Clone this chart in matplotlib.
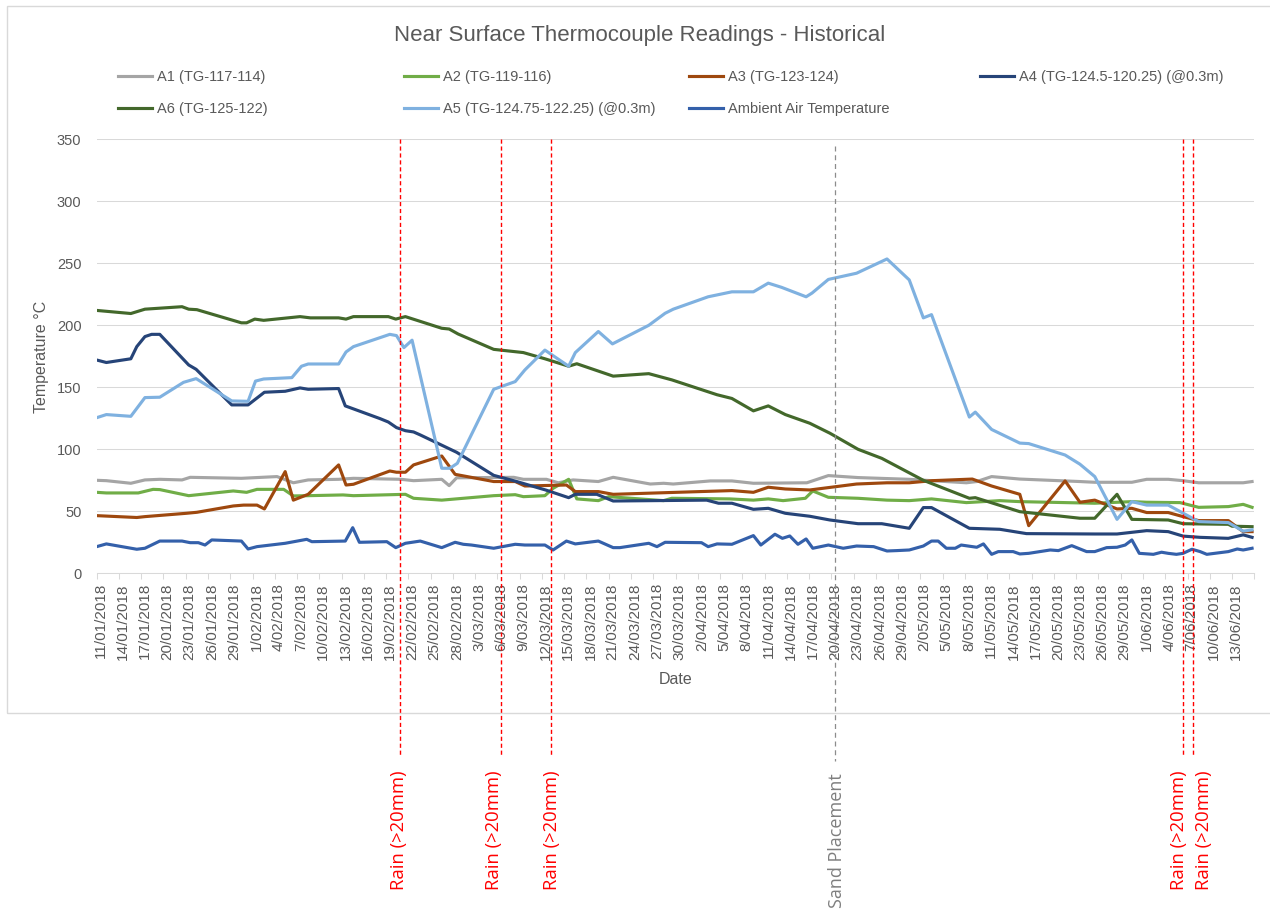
"""Near surface thermocouple readings chart (Excel look-alike)."""

import matplotlib
matplotlib.use("Agg")
import matplotlib.pyplot as plt
import matplotlib.dates as mdates
from matplotlib.patches import Rectangle
from matplotlib.transforms import ScaledTranslation
import pandas as pd

plt.rcParams["font.family"] = ["Liberation Sans", "DejaVu Sans"]

W, H = 1270, 910
START = pd.Timestamp("2018-01-11")
TEXT = "#595959"
GRID = "#d9d9d9"

# ---------------------------------------------------------------------------
# Data: days since 11/01/2018 and readings in °C
# ---------------------------------------------------------------------------

a1_days = [0, 1.3, 4.6, 6.5, 8.5, 11.5, 12.6, 19.5, 24.3, 26.5, 28.5, 32.6, 34.6,
           41, 42.7, 46.5, 47.5, 48.5, 56.2, 57.5, 60.6, 62.2, 64.2, 67.6, 69.6,
           74.6, 76.4, 77.7, 82.7, 85.6, 88.5, 95.7, 98.6, 102.6, 109.5, 117.2,
           118.6, 120.6, 124.4, 132.5, 134.5, 139.5, 141.5, 144.4, 146.4, 148.5,
           154.5, 155.7]
a1_vals = [75, 74.7, 72.6, 75.3, 75.8, 75.3, 77.4, 76.6, 78, 73, 75.3, 75.8, 76.6,
           75.8, 74.7, 75.8, 70.7, 77, 77.4, 75.8, 75.8, 73, 75.3, 74, 77.4,
           72, 72.6, 72, 74.5, 74.5, 72.6, 73, 78.8, 77.2, 75.8, 73,
           74, 78, 76, 74, 73.4, 73.4, 75.8, 75.8, 74.7, 73,
           73, 74]

a2_days = [0, 1.3, 5.6, 7.6, 8.5, 12.4, 18.4, 20.2, 21.6, 25.2, 26.5, 28.5, 33.2,
           34.6, 41.6, 42.7, 46.5, 53.5, 56.4, 57.5, 60.4, 61.5, 63.6, 64.7, 67.6,
           69, 76.4, 77.5, 85.3, 88.5, 90.5, 92.5, 95.5, 96.5, 98.6, 102.6, 106.5,
           109.5, 112.5, 117.2, 121.7, 124.4, 134.5, 139.5, 141.5, 146, 148.5,
           152.5, 154.5, 155.7]
a2_vals = [65.3, 64.8, 64.8, 67.7, 67.5, 62.6, 66.4, 65.3, 67.7, 67.7, 62.4, 62.6, 63.2,
           62.6, 63.7, 60.5, 59, 62.6, 63.4, 61.8, 62.6, 68.5, 75.8, 60, 58.6,
           61.8, 58.6, 60.5, 60, 59, 60, 58.6, 60.5, 66.4, 61.3, 60.5, 59,
           58.6, 60, 57, 58.6, 57.8, 56.5, 57.8, 57.3, 57, 53.2,
           53.8, 55.6, 53.2]

a3_days = [0, 5.4, 6.5, 12.1, 13.5, 18.4, 19.8, 21.6, 22.6, 25.4, 26.5, 28.5, 32.6,
           33.6, 34.6, 39.5, 40.4, 41.6, 42.7, 46.5, 48.3, 53.5, 56.4, 57.7, 63.3,
           64.5, 67.6, 69.6, 81.3, 85.6, 88.5, 90.5, 92.8, 96.1, 102.4, 106.5,
           109.5, 112.6, 118, 120.6, 124.4, 125.6, 130.5, 132.5, 134.5, 137.5,
           139.5, 141.5, 144.4, 146.4, 148.5, 152.5, 154.5, 155.7]
a3_vals = [46.5, 45, 45.7, 48.4, 49.2, 54.3, 55, 55, 51.9, 82, 59, 63.7, 87.4,
           71.2, 71.8, 82.5, 81.5, 81.5, 87.4, 94.6, 79.8, 74, 74, 70.4, 71.2,
           65.9, 65.9, 63.7, 65.9, 66.7, 65.3, 69.4, 68, 67.2, 72, 73,
           73, 74.7, 76, 70.4, 63.7, 38.4, 74.5, 57.3, 59, 51.9,
           52.4, 49, 49, 45.7, 42.5, 42.5, 33.6, 33.6]

a4_days = [0, 1.3, 4.6, 5.4, 6.5, 7.4, 8.5, 12.4, 13.4, 18.2, 20.4, 22.6, 25.4,
           27.4, 28.5, 32.6, 33.5, 38.2, 39.3, 40.4, 41.6, 42.7, 43.6, 48.5, 53.5,
           56.6, 60.6, 63.6, 64.5, 67.4, 69.6, 82.2, 83.8, 85.6, 88.5, 90.5, 92.8,
           96.1, 98.8, 102.6, 105.8, 109.5, 111.4, 112.5, 117.6, 121.7, 125.3,
           134.5, 137.5, 141.5, 144.4, 146.4, 148.7, 152.5, 154.5, 155.7]
a4_vals = [172, 170, 173, 182.8, 190.9, 192.7, 192.7, 168, 164.5, 135.8, 135.8, 146, 146.8,
           149.5, 148.4, 149, 135, 124.7, 122, 117.5, 115, 114, 111.6, 97.6, 79,
           74, 67, 61, 63.7, 63.7, 58.3, 59, 56.5, 56.5, 51.6, 52.4, 48.4,
           46, 43, 40, 40, 36.3, 53, 53, 36.3, 35.5, 32,
           31.7, 31.7, 34.4, 33.6, 30, 29, 28.2, 31, 29]

a6_days = [0, 4.6, 6.5, 11.5, 12.4, 13.5, 19.5, 20.2, 21.3, 22.5, 27.4, 28.8, 32.6,
           33.6, 34.6, 39.3, 40.3, 41.6, 46.5, 47.5, 48.7, 53.5, 57.5, 60.4, 63.6,
           64.7, 69.6, 74.4, 77.5, 83.6, 85.6, 88.5, 90.5, 92.8, 96.1, 98.8, 102.6,
           105.8, 111.4, 117.6, 118.4, 124.4, 132.5, 134.5, 137.5, 139.5, 144.4,
           146.4, 152.5, 153, 155.7]
a6_vals = [212, 209.5, 213, 215, 213, 212.6, 202, 202, 205, 204, 207, 206, 206,
           205, 207, 207, 205, 207, 197.6, 197, 193, 180.6, 178, 173, 167,
           169, 159, 161, 156, 144, 141, 131, 135, 128, 121, 113, 100,
           92.7, 75, 60.5, 61, 49.7, 44.4, 44.4, 63.7, 43.5, 43,
           40, 39.5, 38, 37.6]

a5_days = [0, 1.3, 4.6, 6.5, 8.5, 11.7, 13.4, 18.2, 20.4, 21.4, 22.5, 26.3, 27.6,
           28.5, 32.6, 33.6, 34.6, 39.5, 40.4, 41.4, 42.5, 46.5, 47.6, 48.6, 53.5,
           56.4, 57.7, 60.4, 63.6, 64.5, 67.6, 69.5, 74.4, 76.6, 77.7, 82.4, 85.6,
           88.5, 90.5, 92.3, 95.6, 96.4, 98.6, 102.4, 106.5, 109.5, 111.4, 112.5,
           117.6, 118.4, 120.6, 124.4, 125.6, 130.5, 132.5, 134.5, 137.5, 139.5,
           141.5, 144.4, 148.5, 152.5, 154.5, 155.7]
a5_vals = [125.5, 128, 126.6, 141.7, 142, 154, 157, 139, 138.7, 155, 156.7, 157.8, 167,
           168.8, 168.8, 178.5, 182.8, 192.7, 191.7, 182, 188, 84.7, 84.7, 88.7, 148.4,
           154.6, 164, 180, 167, 178, 195, 185, 200, 209.7, 213, 223, 227,
           227, 234, 230.6, 223, 226, 237, 242, 253.5, 236.6, 206, 208.6,
           126, 130, 116, 105, 104.6, 95.4, 88, 78, 43.5, 57.8,
           55, 55, 41.7, 40.9, 34, 35]

air_days = [0, 1.3, 5.4, 6.5, 8.5, 11.5, 12.6, 13.7, 14.6, 15.5, 19.5, 20.4, 21.6,
            25.4, 28.3, 29, 33.5, 34.5, 35.4, 39.1, 40.3, 41.6, 43.6, 46.5, 48.3,
            49.4, 50.5, 53.5, 56.4, 57.7, 60.4, 61.5, 63.3, 64.5, 67.6, 69.6, 70.5,
            74.4, 75.5, 76.6, 81.5, 82.4, 83.6, 85.6, 88.5, 89.5, 91.4, 92.4, 93.4,
            94.5, 95.6, 96.5, 98.6, 100.6, 102.4, 104.7, 106.5, 107.8, 109.5, 111.4,
            112.5, 113.4, 114.5, 115.7, 116.5, 118.6, 119.5, 120.6, 121.5, 123.5,
            124.4, 125.6, 128.5, 129.6, 131.4, 133.4, 134.5, 136.1, 137.5, 138.6,
            139.5, 140.5, 142.4, 143.5, 144.4, 145.5, 146.4, 147.6, 148.7, 149.6,
            152.5, 153.7, 154.5, 155.7]
air_vals = [21.5, 23.7, 19.4, 20.2, 26, 26, 24.7, 24.7, 22.8, 26.9, 26, 19.6, 21.5,
            24.2, 27.4, 25.5, 26, 36.8, 25, 25.5, 20.7, 24.2, 26, 20.7, 25,
            23.4, 22.8, 20.2, 23.4, 22.8, 22.8, 18.8, 26, 23.7, 26, 20.7, 20.7,
            24.2, 21.5, 25, 24.7, 21.5, 23.7, 23.4, 30.4, 22.8, 31.5, 28.2, 30.1,
            23.4, 27.7, 20.2, 22.8, 20.2, 22, 21.5, 18, 18.3, 18.8, 22,
            26, 26, 20.2, 20.2, 22.8, 21, 23.7, 15.3, 17.5, 17.5,
            15.6, 16.1, 18.8, 18.3, 22.3, 17.5, 17.5, 20.7, 21, 22.8,
            26.9, 16.1, 15.3, 17, 16.1, 15.3, 16.1, 19.4, 17.5, 15.3,
            17.5, 19.6, 18.8, 20.2]

# Event markers (days since 11/01/2018)
rain_days = [40.9, 54.5, 61.2, 146.4, 147.7]
sand_day = 99.5

# label nudges in pixels relative to each marker line
rain_label_dx = [-1, -6.7, 1, -4.4, 11.3]
sand_label_dx = 2


def to_dates(days):
    return (START + pd.to_timedelta(days, unit="D")).to_numpy()


series = [
    ("A1 (TG-117-114)", a1_days, a1_vals, "#a5a5a5"),
    ("A2 (TG-119-116)", a2_days, a2_vals, "#70ad47"),
    ("A3 (TG-123-124)", a3_days, a3_vals, "#9e480e"),
    ("A4 (TG-124.5-120.25) (@0.3m)", a4_days, a4_vals, "#264478"),
    ("A6 (TG-125-122)", a6_days, a6_vals, "#43682b"),
    ("A5 (TG-124.75-122.25) (@0.3m)", a5_days, a5_vals, "#7fb1e0"),
    ("Ambient Air Temperature", air_days, air_vals, "#3460aa"),
]

# ---------------------------------------------------------------------------
# Figure
# ---------------------------------------------------------------------------

fig = plt.figure(figsize=(W / 100, H / 100), dpi=100)
fig.patch.set_facecolor("white")

# pixel box of the plot area
px_left, px_right, px_top, px_bottom = 96.7, 1254.3, 139.3, 573.3
ax = fig.add_axes([px_left / W, 1 - px_bottom / H,
                   (px_right - px_left) / W, (px_bottom - px_top) / H])

handles = []
for label, days, vals, color in series:
    ln, = ax.plot(to_dates(days), vals, color=color, lw=2.25,
                  solid_joinstyle="round", label=label)
    handles.append(ln)

ax.set_ylim(0, 350)
ax.set_yticks(range(0, 351, 50))
ax.tick_params(axis="y", length=0, pad=11, labelsize=10.5, labelcolor=TEXT)
ax.yaxis.grid(True, color=GRID, lw=0.75)
ax.set_axisbelow(True)

end = START + pd.Timedelta(days=156)
ax.set_xlim(mdates.date2num(START), mdates.date2num(end))
tick_dates = [START + pd.Timedelta(days=3 * k) for k in range(53)]
tick_labels = [f"{d.day}/{d.month:02d}/{d.year}" for d in tick_dates]
tick_labels[-1] = ""
ax.set_xticks(mdates.date2num(tick_dates))
ax.set_xticklabels(tick_labels, rotation=90, fontsize=11, color=TEXT)
ax.tick_params(axis="x", length=4.5, width=0.75, color=GRID, pad=2.5)
shift = ScaledTranslation(4 / 100, 0, fig.dpi_scale_trans)
for t in ax.get_xticklabels():
    t.set_transform(t.get_transform() + shift)

for side in ("left", "right", "top"):
    ax.spines[side].set_visible(False)
ax.spines["bottom"].set_color(GRID)
ax.spines["bottom"].set_linewidth(0.75)

# event lines, running down past the axis labels
span = px_bottom - px_top
xform = ax.get_xaxis_transform()
for d, dx in zip(rain_days, rain_label_dx):
    x = mdates.date2num(START + pd.Timedelta(days=d))
    ax.plot([x, x], [1.0, (px_bottom - 755) / span], transform=xform, clip_on=False,
            color="#ff0000", lw=1.0, ls=(0, (3, 2)), zorder=5)
    ax.annotate("Rain (>20mm)", xy=(x, (px_bottom - 770) / span), xycoords=xform,
                xytext=(dx * 0.72, 0), textcoords="offset points", rotation=90,
                ha="center", va="top", color="#ff0000", fontsize=13.3,
                family=["Open Sans", "DejaVu Sans"], annotation_clip=False)

x = mdates.date2num(START + pd.Timedelta(days=sand_day))
ax.plot([x, x], [0.985, (px_bottom - 760.7) / span], transform=xform, clip_on=False,
        color="#8c8c8c", lw=0.9, ls=(0, (4, 3)), zorder=5)
ax.annotate("Sand Placement", xy=(x, (px_bottom - 773) / span), xycoords=xform,
            xytext=(sand_label_dx * 0.72, 0), textcoords="offset points", rotation=90,
            ha="center", va="top", color="#7f7f7f", fontsize=13,
            family=["Open Sans", "DejaVu Sans"], annotation_clip=False)

# titles
fig.text(640 / W, 1 - 35 / H, "Near Surface Thermocouple Readings - Historical",
         ha="center", va="center", fontsize=16, color=TEXT)
fig.text(41.7 / W, 1 - 357 / H, "Temperature °C", rotation=90,
         ha="center", va="center", fontsize=11.5, color=TEXT)
fig.text((px_left + px_right) / 2 / W, 1 - 679 / H, "Date",
         ha="center", va="center", fontsize=11.5, color=TEXT)

# legend laid out on Excel's fixed grid, row by row
legend_cols = [118, 404, 689, 980]
legend_rows = [77, 109]
for i, ln in enumerate(handles):
    col, row = i % 4, i // 4
    fig.legend(handles=[ln], loc="center left",
               bbox_to_anchor=(legend_cols[col] / W, 1 - legend_rows[row] / H),
               bbox_transform=fig.transFigure, frameon=False, borderpad=0,
               borderaxespad=0, handlelength=2.35, handletextpad=0.35,
               fontsize=10.5, labelcolor=TEXT)

# chart area border
fig.patches.append(Rectangle((7 / W, 1 - 712.7 / H), (1280 - 7) / W, (712.7 - 6) / H,
                             transform=fig.transFigure, fill=False,
                             edgecolor=GRID, lw=1))

fig.savefig("out.png", dpi=100, facecolor="white")
